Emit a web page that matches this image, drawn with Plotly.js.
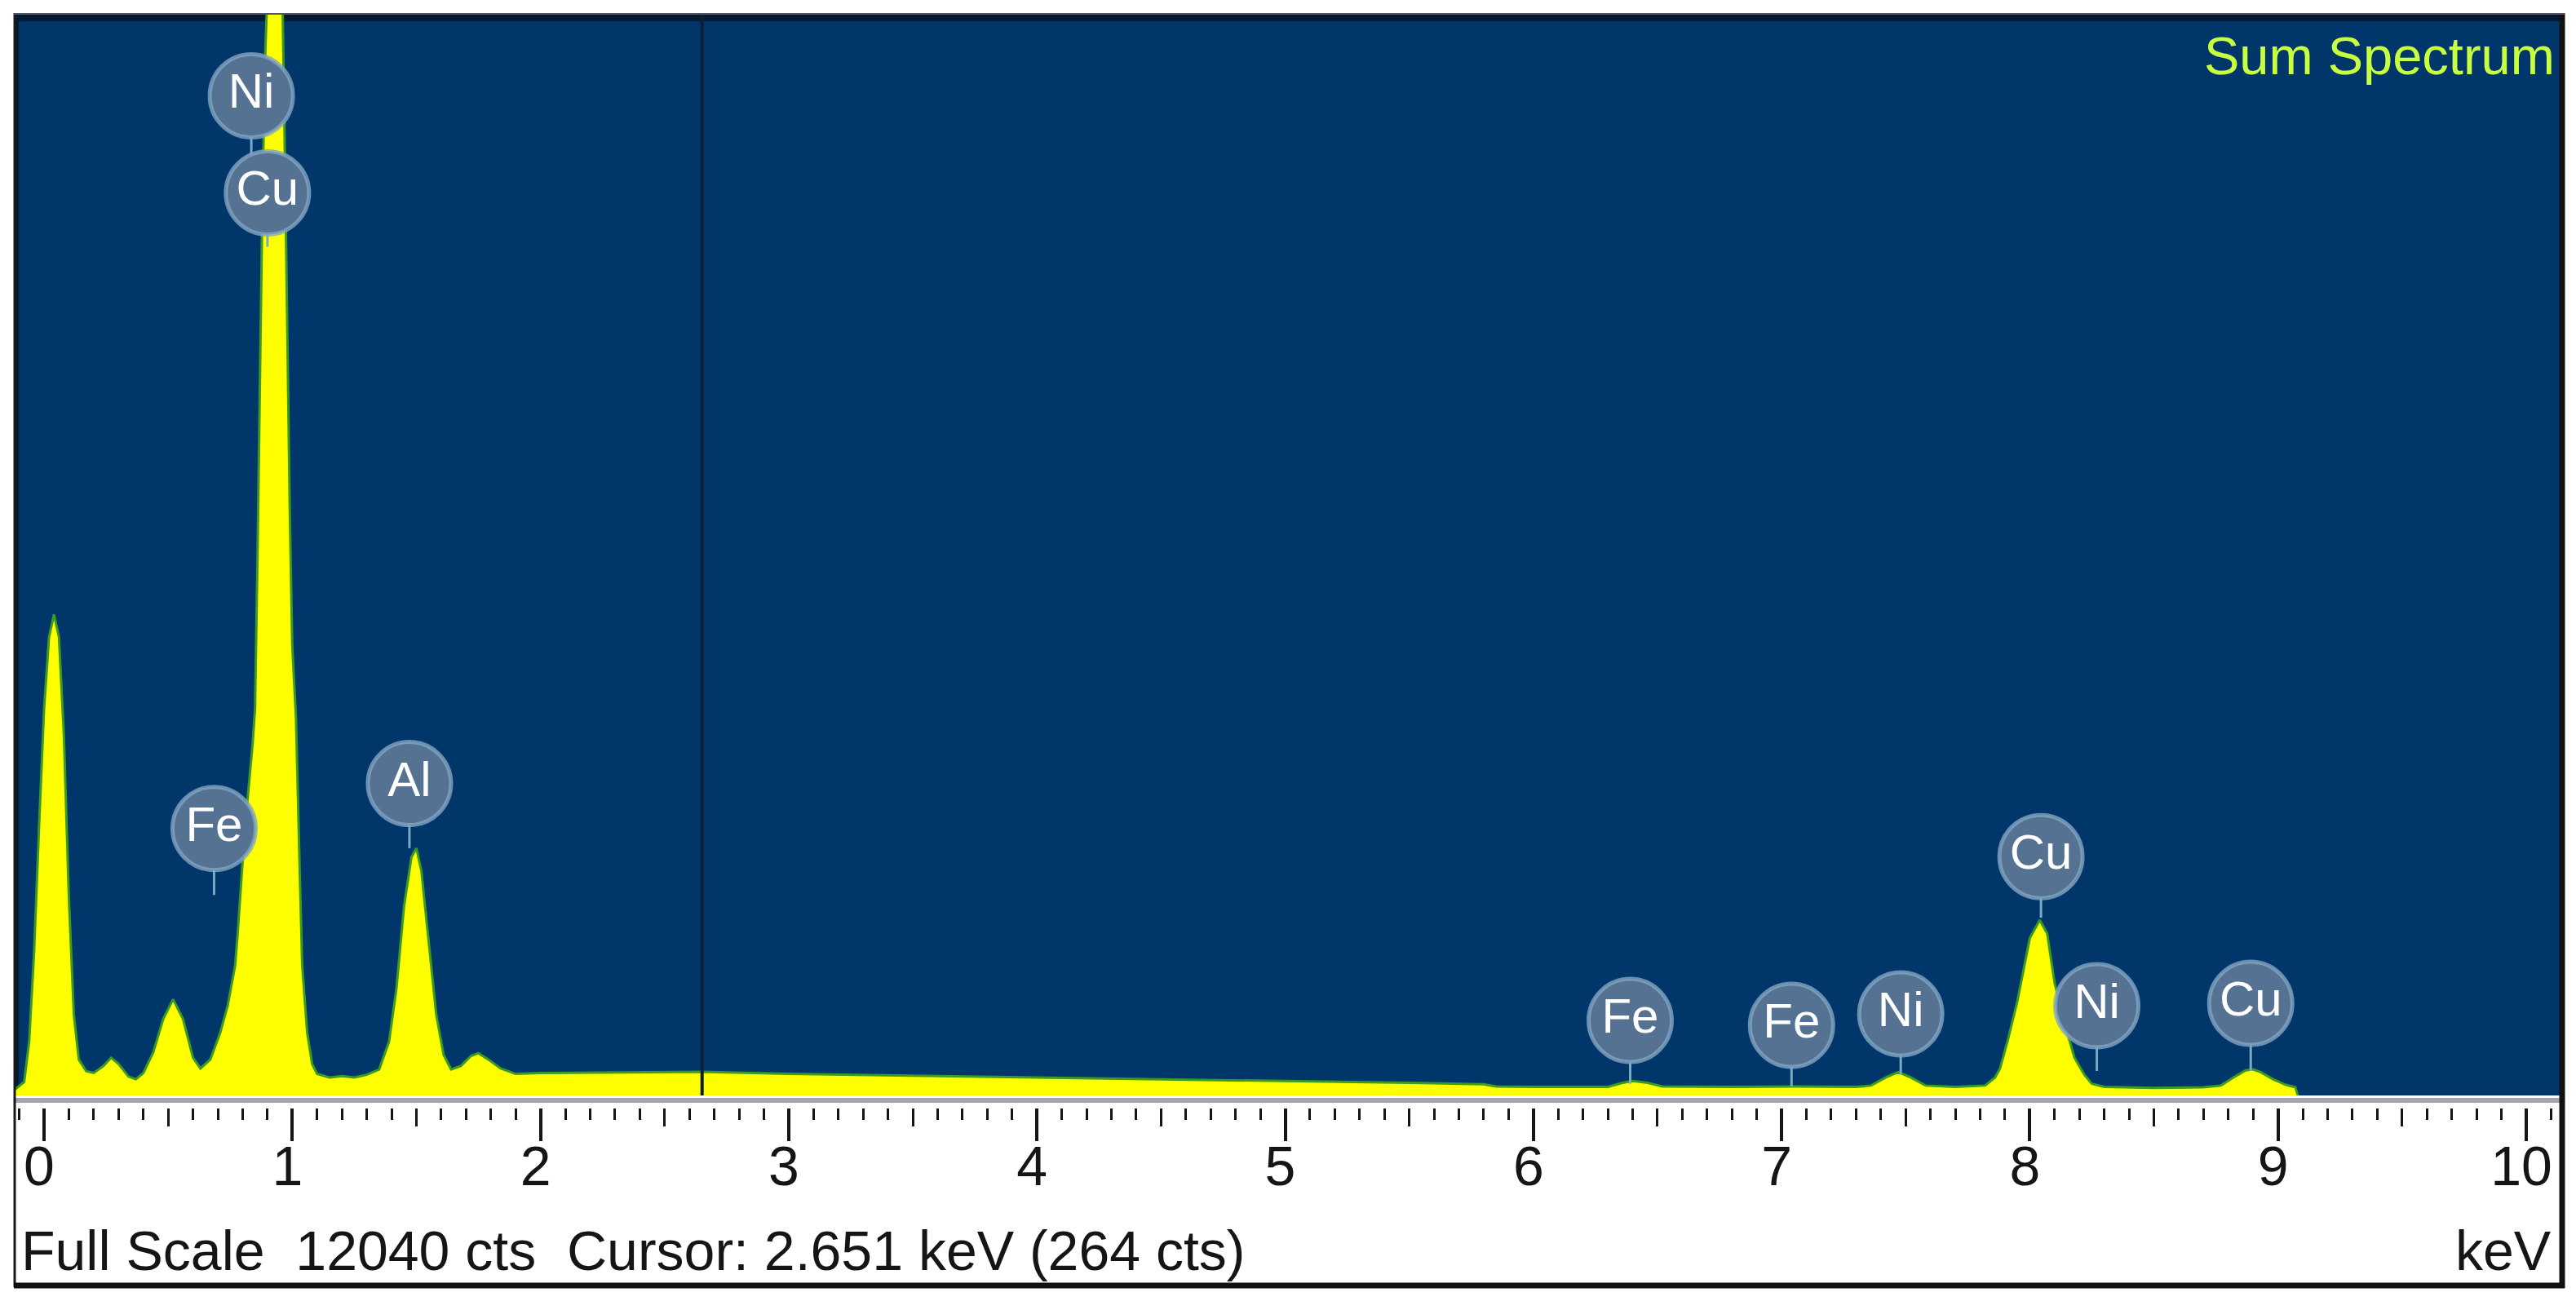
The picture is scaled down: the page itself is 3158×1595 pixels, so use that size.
<!DOCTYPE html>
<html>
<head>
<meta charset="utf-8">
<script src="https://cdn.plot.ly/plotly-3.0.1.min.js"></script>
<style>html,body{margin:0;padding:0;background:#fff;}#chart{width:3158px;height:1595px;}</style>
</head>
<body>
<div id="chart"></div>
<script>
// ---- data ----
const energyKeV = [-0.12,-0.08,-0.06,-0.04,-0.02,0.00,0.02,0.04,0.06,0.08,0.10,0.12,0.14,0.17,0.20,0.24,0.27,0.30,0.34,0.37,0.40,0.44,0.48,0.52,0.56,0.60,0.63,0.67,0.71,0.74,0.77,0.78,0.80,0.82,0.84,0.85,0.86,0.87,0.88,0.89,0.90,0.93,0.96,0.97,0.98,0.99,1.00,1.015,1.03,1.04,1.06,1.08,1.10,1.15,1.20,1.25,1.30,1.35,1.39,1.42,1.45,1.48,1.50,1.52,1.55,1.58,1.61,1.64,1.68,1.72,1.75,1.79,1.84,1.90,2.00,2.30,2.65,3.00,3.50,4.00,4.50,5.00,5.50,5.80,5.85,6.00,6.30,6.36,6.40,6.46,6.52,6.80,7.06,7.30,7.36,7.42,7.47,7.52,7.58,7.70,7.82,7.86,7.88,7.91,7.95,8.00,8.04,8.07,8.10,8.14,8.18,8.22,8.25,8.30,8.50,8.70,8.77,8.82,8.87,8.90,8.93,8.98,9.03,9.07,9.08];
const counts    = [60,150,600,1600,3000,4300,5100,5350,5100,4000,2200,900,400,270,250,330,420,350,210,180,250,480,850,1070,850,420,300,400,700,1000,1450,1800,2600,3300,3900,4300,6000,8000,10000,11500,12300,13500,12300,10500,8500,6500,5000,4200,2500,1450,700,350,240,200,215,200,230,290,600,1200,2100,2650,2750,2500,1700,900,450,290,330,440,470,400,300,240,250,258,264,240,220,200,185,165,140,125,100,95,95,140,160,140,100,95,100,95,110,200,260,200,110,95,110,200,300,600,1050,1750,1950,1800,1250,800,420,230,130,95,85,90,110,200,280,290,260,180,120,90,0];

const labelText   = ['Ni','Cu','Fe','Al','Fe','Fe','Ni','Cu','Ni','Cu'];
const labelKeV    = [0.835,0.90,0.685,1.472,6.39,7.04,7.48,8.045,8.27,8.89];
const labelCounts = [11120,10040,2970,3470,835,780,907,2657,998,1025];
const stemBottom  = [10040,9440,2230,2750,130,100,230,1977,272,272];

const fullScale = 12040;
const cursorKeV = 2.651;
const cursorCts = 264;
const tickValues = [0,1,2,3,4,5,6,7,8,9,10];
const tickLabels = ['0','1','2','3','4','5','6','7','8','9','10'];

// ---- geometry (pixels of the 3158x1595 canvas) ----
const W = 3158, H = 1595;
const L = 17, R = 20, T = 16, B = 23;
const plotH = H - T - B;
const py = p => (H - B - p) / plotH;        // pixel y -> paper y
const pxw = W - L - R;
const px = p => (p - L) / pxw;              // pixel x -> paper x
const specBottom = py(1343);
const rulerPos = py(1358);
const xRange = [(17 - 54) / 304.3, (3138 - 54) / 304.3];

const stemX = [], stemY = [];
for (let i = 0; i < labelKeV.length; i++) {
  stemX.push(labelKeV[i], labelKeV[i], null);
  stemY.push(labelCounts[i], stemBottom[i], null);
}

const traces = [
  {
    x: energyKeV, y: counts, type: 'scatter', mode: 'lines',
    fill: 'tozeroy', fillcolor: '#ffff00',
    line: {color: '#3a9a22', width: 3},
    xaxis: 'x', yaxis: 'y', hoverinfo: 'skip', cliponaxis: true
  },
  {
    x: stemX, y: stemY, type: 'scatter', mode: 'lines',
    line: {color: '#78aac4', width: 3},
    xaxis: 'x2', yaxis: 'y', hoverinfo: 'skip'
  },
  {
    x: labelKeV, y: labelCounts, text: labelText, type: 'scatter', mode: 'markers+text',
    textposition: 'middle center',
    textfont: {family: 'Liberation Sans, Arial, sans-serif', size: 60, color: '#ffffff'},
    marker: {size: 102, color: 'rgb(86,114,146)', line: {color: 'rgba(130,165,195,0.8)', width: 5}},
    xaxis: 'x3', yaxis: 'y', hoverinfo: 'skip', cliponaxis: false
  }
];

const tickFont = {family: 'Liberation Sans, Arial, sans-serif', size: 68, color: '#151515'};
const axisBase = {
  range: xRange, anchor: 'free', position: rulerPos, side: 'bottom',
  showline: false, showgrid: false, zeroline: false, fixedrange: true
};

const layout = {
  width: W, height: H,
  margin: {l: L, r: R, t: T, b: B, pad: 0},
  paper_bgcolor: '#ffffff', plot_bgcolor: 'rgba(0,0,0,0)',
  showlegend: false,
  // labels only
  xaxis: Object.assign({}, axisBase, {
    tickmode: 'array', tickvals: tickValues, ticktext: tickLabels,
    ticks: 'outside', ticklen: 10, tickwidth: 1, tickcolor: 'rgba(0,0,0,0)',
    tickfont: tickFont, ticklabelstandoff: 2, ticklabelshift: -6
  }),
  // half-keV and 0.1 keV ticks
  xaxis2: Object.assign({}, axisBase, {
    overlaying: 'x', tick0: 0, dtick: 0.5, ticks: 'outside', ticklen: 22, tickwidth: 3,
    tickcolor: '#151515', showticklabels: false,
    minor: {tick0: 0, dtick: 0.1, ticks: 'outside', ticklen: 14, tickwidth: 3, tickcolor: '#151515', showgrid: false}
  }),
  // whole-keV ticks
  xaxis3: Object.assign({}, axisBase, {
    overlaying: 'x', tick0: 0, dtick: 1, ticks: 'outside', ticklen: 40, tickwidth: 4,
    tickcolor: '#151515', showticklabels: false
  }),
  yaxis: {
    domain: [specBottom, 1], range: [0, fullScale],
    showticklabels: false, ticks: '', showgrid: false, zeroline: false, showline: false, fixedrange: true
  },
  shapes: [
    {type: 'rect', xref: 'paper', yref: 'paper', x0: 0, x1: 1, y0: specBottom, y1: 1,
     fillcolor: '#00366a', line: {width: 0}, layer: 'below'},
    {type: 'line', xref: 'paper', yref: 'paper', x0: 0, x1: 1, y0: py(21), y1: py(21),
     line: {color: '#001a30', width: 10}, layer: 'below'},
    {type: 'line', xref: 'paper', yref: 'paper', x0: px(20), x1: px(20), y0: specBottom, y1: 1,
     line: {color: '#001a30', width: 6}, layer: 'below'},
    {type: 'line', xref: 'x', yref: 'paper', x0: cursorKeV, x1: cursorKeV, y0: specBottom, y1: 1,
     line: {color: '#0a1f33', width: 4}, layer: 'above'},
    {type: 'line', xref: 'paper', yref: 'paper', x0: 0, x1: 1, y0: py(1349), y1: py(1349),
     line: {color: '#a3a3b3', width: 6}},
    {type: 'line', xref: 'paper', yref: 'paper', x0: px(18), x1: px(18), y0: py(1578), y1: py(16),
     line: {color: '#1a1a1a', width: 3}},
    {type: 'line', xref: 'paper', yref: 'paper', x0: px(17), x1: px(3144), y0: py(1576), y1: py(1576),
     line: {color: '#111111', width: 7}},
    {type: 'line', xref: 'paper', yref: 'paper', x0: px(3141), x1: px(3141), y0: py(1579), y1: py(16),
     line: {color: '#111111', width: 7}},
    {type: 'line', xref: 'paper', yref: 'paper', x0: px(17), x1: px(3144), y0: py(17), y1: py(17),
     line: {color: '#555566', width: 2}}
  ],
  annotations: [
    {xref: 'paper', yref: 'paper', x: px(3134), y: py(68), xanchor: 'right', yanchor: 'middle',
     text: 'Sum Spectrum', showarrow: false,
     font: {family: 'Liberation Sans, Arial, sans-serif', size: 65, color: '#c8ff40'}},
    {xref: 'paper', yref: 'paper', x: px(24), y: py(1533), xanchor: 'left', yanchor: 'middle',
     text: 'Full Scale\u00a0\u00a0' + fullScale + ' cts\u00a0\u00a0Cursor: ' + cursorKeV.toFixed(3) + ' keV (' + cursorCts + ' cts)',
     showarrow: false, font: {family: 'Liberation Sans, Arial, sans-serif', size: 68, color: '#151515'}},
    {xref: 'paper', yref: 'paper', x: px(3130), y: py(1533), xanchor: 'right', yanchor: 'middle',
     text: 'keV', showarrow: false, font: {family: 'Liberation Sans, Arial, sans-serif', size: 68, color: '#151515'}}
  ]
};

Plotly.newPlot('chart', traces, layout, {staticPlot: true, displayModeBar: false});
</script>
</body>
</html>
